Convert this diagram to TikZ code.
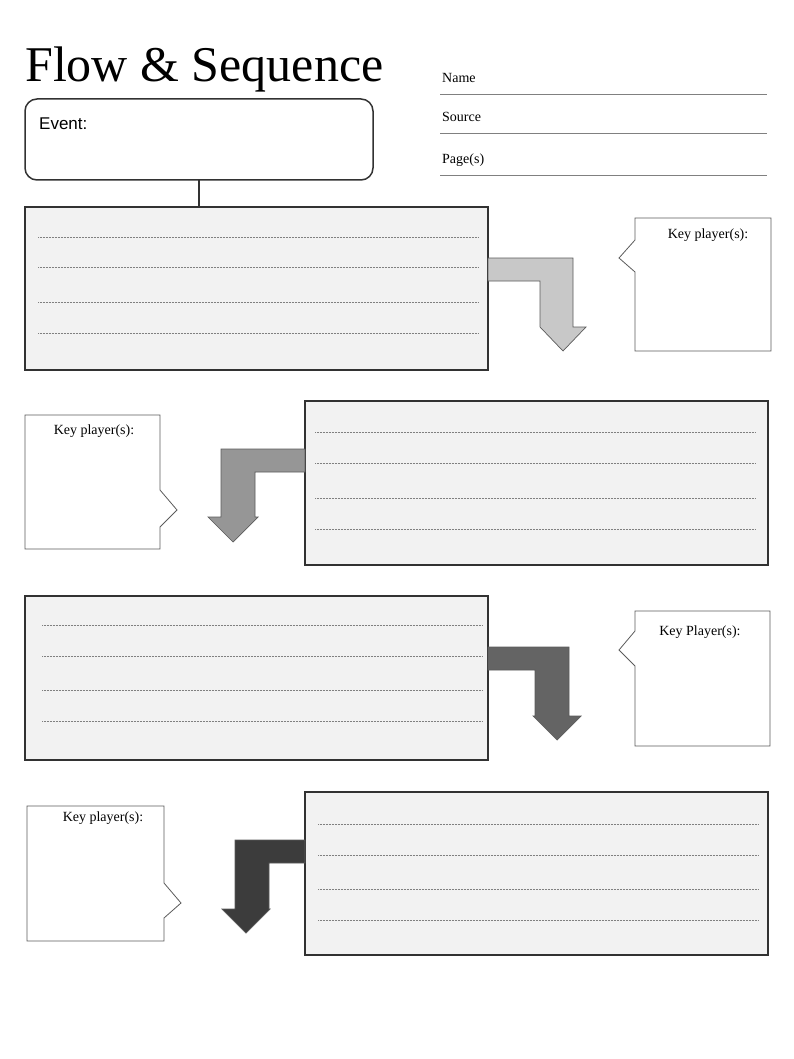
\documentclass[tikz,border=0pt]{standalone}
\usepackage{fontspec}
\setmainfont{Liberation Serif}
\newfontfamily\sansf{Liberation Sans}
\definecolor{boxfill}{RGB}{242,242,242}
\definecolor{edge}{RGB}{50,50,50}
\definecolor{arA}{RGB}{200,200,200}
\definecolor{arB}{RGB}{150,150,150}
\definecolor{arC}{RGB}{100,100,100}
\definecolor{arD}{RGB}{60,60,60}
\tikzset{
  textbox/.style={draw=edge,line width=1.5pt,fill=boxfill},
  dots/.style={densely dotted,draw=gray,line width=0.5pt},
  arrowshape/.style={draw=edge!80,line width=0.7pt},
  callout/.style={draw=edge!80,line width=0.8pt,fill=white},
  klabel/.style={font=\fontsize{14}{16}\selectfont,inner sep=0pt},
  flabel/.style={font=\fontsize{14}{16}\selectfont,inner sep=0pt,anchor=base west},
}
\begin{document}
\begin{tikzpicture}[x=1pt,y=-1pt]
\useasboundingbox (0,0) rectangle (794,1059);
\node[anchor=base west,inner sep=0pt,font=\fontsize{50}{54}\selectfont] (title) at (25,82) {Flow \& Sequence};
\draw[draw=edge,line width=1.5pt,rounded corners=12pt] (25,99) rectangle (373,180);
\node[anchor=north west,inner sep=0pt,font=\sansf\fontsize{17}{19}\selectfont] (event) at (39,118) {Event:};
\coordinate (ev) at (199,180);
\coordinate (b1top) at (199,207);
\draw[edge,line width=2pt] (ev) -- (b1top);
% name fields
\foreach \y/\t/\n in {94/Name/nm,133/Source/src,175/Page(s)/pg}{
  \draw[gray,line width=0.8pt] (440,\y) -- (767,\y);
  \node[flabel] (\n) at (442,\y-11) {\t};
}
% boxes
\draw[textbox] (25,207) rectangle (488,370);
\foreach \y in {237,267,302,333} \draw[dots] (38,\y) -- (478,\y);
\draw[textbox] (305,401) rectangle (768,565);
\foreach \y in {432,463,498,529} \draw[dots] (315,\y) -- (755,\y);
\draw[textbox] (25,596) rectangle (488,760);
\foreach \y in {625,656,690,721} \draw[dots] (42,\y) -- (482,\y);
\draw[textbox] (305,792) rectangle (768,955);
\foreach \y in {824,855,889,920} \draw[dots] (318,\y) -- (758,\y);
% arrows
\draw[arrowshape,fill=arA] (488,258) -- (573,258) -- (573,327) -- (586,327) -- (563,351) -- (540,327) -- (540,281) -- (488,281) -- cycle;
\draw[arrowshape,fill=arB] (305,449) -- (221,449) -- (221,517) -- (208,517) -- (233,542) -- (258,517) -- (255,517) -- (255,472) -- (305,472) -- cycle;
\draw[arrowshape,fill=arC] (488,647) -- (569,647) -- (569,716) -- (581,716) -- (557,740) -- (533,716) -- (535,716) -- (535,670) -- (488,670) -- cycle;
\draw[arrowshape,fill=arD] (305,840) -- (235,840) -- (235,909) -- (222,909) -- (246,933) -- (270,909) -- (269,909) -- (269,863) -- (305,863) -- cycle;
% callouts
\draw[callout] (635,218) -- (771,218) -- (771,351) -- (635,351) -- (635,272) -- (619,258) -- (635,240) -- cycle;
\node[klabel] (k1) at (708,235) {Key player(s):};
\draw[callout] (25,415) -- (160,415) -- (160,490) -- (177,510) -- (160,527) -- (160,549) -- (25,549) -- cycle;
\node[klabel] (k2) at (94,431) {Key player(s):};
\draw[callout] (635,611) -- (770,611) -- (770,746) -- (635,746) -- (635,666) -- (619,650) -- (635,631) -- cycle;
\node[klabel] (k3) at (700,632) {Key Player(s):};
\draw[callout] (27,806) -- (164,806) -- (164,883) -- (181,903) -- (164,918) -- (164,941) -- (27,941) -- cycle;
\node[klabel] (k4) at (103,818) {Key player(s):};
\end{tikzpicture}
\end{document}
